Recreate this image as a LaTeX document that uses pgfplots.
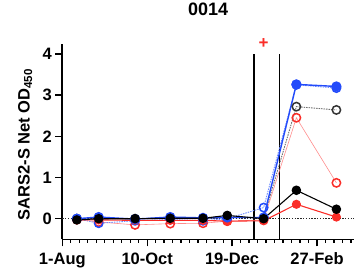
\documentclass[border=0pt]{standalone}
\usepackage{fontspec}
\setmainfont{Liberation Sans}
\usepackage{pgfplots}
\pgfplotsset{compat=1.18}
\definecolor{pblue}{RGB}{35,75,250}
\definecolor{lblue}{RGB}{110,140,255}
\definecolor{pred}{RGB}{250,45,40}
\definecolor{lred}{RGB}{255,140,140}
\definecolor{pgray}{RGB}{110,110,110}
\begin{document}
\begin{tikzpicture}
\useasboundingbox (-62.3pt,-34.7pt) rectangle (291.7pt,239.3pt);
\begin{axis}[
  at={(0,0)}, anchor=south west,
  scale only axis, width=291.7pt, height=195.7pt,
  xmin=0, xmax=240.5, ymin=-0.5, ymax=4.25,
  axis x line*=bottom, axis y line*=left,
  axis line style={line width=1.6pt, -},
  xtick={0,70,140,210}, xticklabels={1-Aug,10-Oct,19-Dec,27-Feb},
  minor xtick={7,14,...,238},
  ytick={0,1,2,3,4},
  tick align=outside, major tick length=7pt, minor tick length=3.5pt,
  every tick/.style={line width=1.4pt, black},
  /pgf/number format/assume math mode=true,
  tick label style={font=\fontsize{16.5}{18}\selectfont\bfseries},
  xticklabel style={anchor=north, yshift=-3pt},
  title={0014},
  title style={font=\fontsize{18}{20}\selectfont\bfseries, at={(axis description cs:0.5,1)}, anchor=base, yshift=22pt},
  ylabel={SARS2-S Net OD\textsubscript{450}},
  ylabel style={font=\fontsize{16.5}{18}\selectfont\bfseries, at={(axis description cs:-0.112,0.484)}, anchor=base},
  clip=false,
]
% zero line
\addplot[black!85, line width=1.4pt, dash pattern=on 1.4pt off 1.4pt] coordinates {(0,0) (240.5,0)};
% vertical lines
\addplot[black, line width=1.6pt] coordinates {(158,-0.5) (158,4.0)};
\addplot[black, line width=1.6pt] coordinates {(179,-0.5) (179,4.0)};
% red open
\addplot[lred, line width=0.6pt, mark=o, mark size=4.2pt, mark options={pred, line width=1.5pt, solid}] coordinates {
(12,-0.02) (30,-0.08) (60,-0.15) (89,-0.12) (116,-0.11) (136,-0.06) (166,-0.03) (193,2.45) (226,0.87)};
% black open
\addplot[pgray, line width=0.9pt, dash pattern=on 1.5pt off 1pt, mark=o, mark size=4.2pt, mark options={black!80, line width=1.5pt, solid}] coordinates {
(12,0.0) (30,0.0) (60,0.0) (89,0.0) (116,0.0) (136,0.03) (166,0.02) (193,2.72) (226,2.64)};
% blue open
\addplot[lblue, line width=0.9pt, dash pattern=on 1.5pt off 1pt, mark=o, mark size=4.2pt, mark options={pblue, line width=1.5pt, solid}] coordinates {
(12,0.0) (30,-0.11) (60,-0.05) (89,-0.02) (116,-0.05) (136,0.0) (166,0.27) (193,3.25) (226,3.17)};
% red filled
\addplot[pred, line width=1.1pt, mark=*, mark size=4pt, mark options={pred, solid}] coordinates {
(12,-0.03) (30,-0.03) (60,-0.04) (89,-0.04) (116,-0.04) (136,-0.06) (166,-0.05) (193,0.35) (226,0.04)};
% blue filled
\addplot[pblue, line width=1.4pt, mark=*, mark size=4.4pt, mark options={pblue, solid}] coordinates {
(12,0.0) (30,0.04) (60,-0.01) (89,0.04) (116,0.02) (136,0.03) (166,0.03) (193,3.26) (226,3.21)};
% black filled
\addplot[black, line width=1.1pt, mark=*, mark size=4.2pt, mark options={black, solid}] coordinates {
(12,-0.03) (30,0.0) (60,0.0) (89,0.01) (116,0.01) (136,0.08) (166,0.0) (193,0.69) (226,0.23)};
% red plus
\addplot[only marks, mark=text, text mark={+}, text mark as node=true,
  text mark style={font=\fontsize{17}{17}\selectfont\bfseries, text=pred, inner sep=0pt, anchor=center}] coordinates {(166,4.25)};
\end{axis}
\end{tikzpicture}
\end{document}
